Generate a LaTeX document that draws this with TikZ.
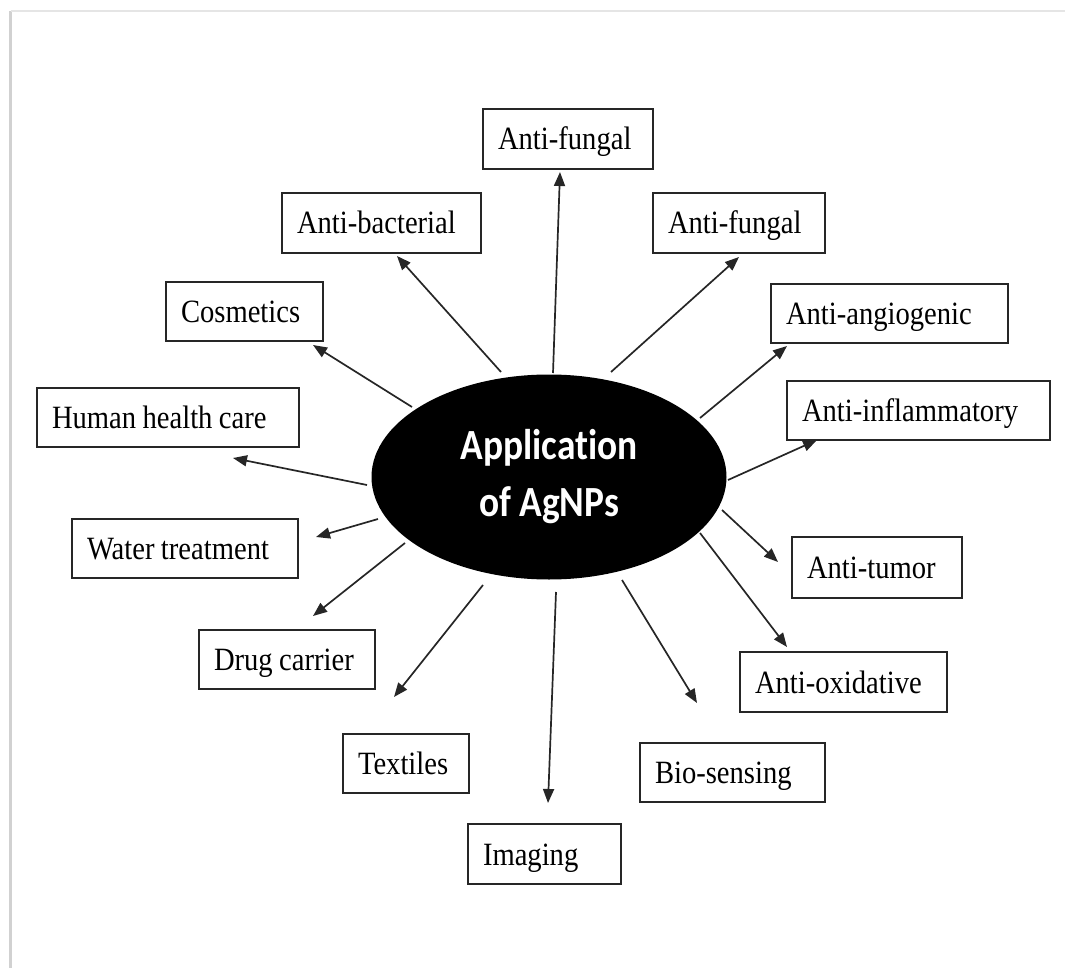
\documentclass[tikz,border=0pt]{standalone}
\usepackage{fontspec}
\setmainfont{Liberation Serif}[FakeStretch=0.88, WordSpace=0.9]
\newfontfamily\calfont{Carlito}[FakeStretch=0.87, Ligatures={NoCommon}]
\usetikzlibrary{shapes.geometric,arrows.meta}
\tikzset{
  box/.style={draw=black!85, line width=2.2pt, fill=white, rectangle,
    inner xsep=15pt, inner ysep=0pt, align=flush left,
    font=\fontsize{32.5}{36}\selectfont, text=black,
    text height=24pt, text depth=2pt},
  bx/.style 2 args={box, text width=#1, minimum height=#2},
  arr/.style={draw=black!85, line width=1.7pt, -{Triangle[length=14pt,width=11pt]}},
  hub/.style={ellipse, fill=black, draw=none, inner sep=0pt,
    minimum width=355pt, minimum height=205pt, align=center, text=white,
    font=\calfont\bfseries\fontsize{43}{57}\selectfont},
  frameline/.style={line width=2.5pt}
}
\begin{document}
\begin{tikzpicture}[x=1pt,y=-1pt]
\useasboundingbox (0,0) rectangle (1065,968);
% page frame
\draw[frameline, draw=black!18] (10.5,968) -- (10.5,11) coordinate (fc);
\draw[line width=1.5pt, draw=black!10] (fc) -- (1065,11);

% hub
\node[hub] (ell) at (549,477) {Application\\of AgNPs};

% boxes
\node[bx={140pt}{60pt}] (af1) at (568,139) {Anti-fungal};
\node[bx={169pt}{60pt}] (ab) at (381.5,223) {Anti-bacterial};
\node[bx={142pt}{60pt}] (af2) at (739,223) {Anti-fungal};
\node[bx={127pt}{59pt}] (cos) at (244.5,311.5) {Cosmetics};
\node[bx={207pt}{59pt}] (ang) at (889.5,313.5) {Anti-angiogenic};
\node[bx={232pt}{59pt}] (hhc) at (168,417.5) {Human health care};
\node[bx={233pt}{59pt}] (inf) at (918.5,410.5) {Anti-inflammatory};
\node[bx={196pt}{59pt}] (wt) at (185,548.5) {Water treatment};
\node[bx={140pt}{61pt}] (tum) at (877,567.5) {Anti-tumor};
\node[bx={146pt}{59pt}] (dc) at (287,659.5) {Drug carrier};
\node[bx={177pt}{60pt}] (ox) at (843.5,682) {Anti-oxidative};
\node[bx={96pt}{59pt}] (tex) at (406,763.5) {Textiles};
\node[bx={155pt}{59pt}] (bio) at (732.5,772.5) {Bio-sensing};
\node[bx={123pt}{60pt}] (img) at (544.5,854) {Imaging};

% arrow end points
\coordinate (s1) at (553,373);  \coordinate (t1) at (560,172);
\coordinate (s2) at (501,372);  \coordinate (t2) at (397,256);
\coordinate (s3) at (611,372);  \coordinate (t3) at (739,257);
\coordinate (s4) at (412,407);  \coordinate (t4) at (313,345);
\coordinate (s5) at (700,418);  \coordinate (t5) at (787,346);
\coordinate (s6) at (367,485);  \coordinate (t6) at (233,458);
\coordinate (s7) at (728,480);  \coordinate (t7) at (817,440);
\coordinate (s8) at (378,519);  \coordinate (t8) at (316,537);
\coordinate (s9) at (722,510);  \coordinate (t9) at (778,562);
\coordinate (s10) at (405,543); \coordinate (t10) at (313,616);
\coordinate (s11) at (700,533); \coordinate (t11) at (787,647);
\coordinate (s12) at (483,585); \coordinate (t12) at (394,697);
\coordinate (s13) at (556,592); \coordinate (t13) at (548,803);
\coordinate (s14) at (622,580); \coordinate (t14) at (697,703);

\foreach \i in {1,...,14} {\draw[arr] (s\i) -- (t\i);}
\end{tikzpicture}
\end{document}
